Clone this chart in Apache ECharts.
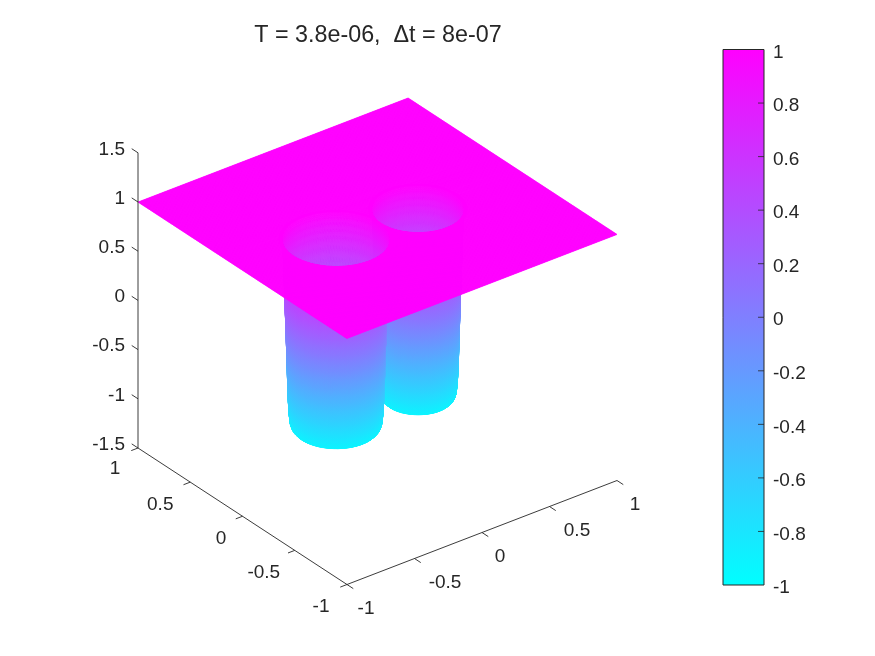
<!DOCTYPE html>
<html>
<head>
<meta charset="utf-8">
<style>html,body{margin:0;padding:0;background:#fff}#c{width:875px;height:656px}</style>
<script src="https://cdn.jsdelivr.net/npm/echarts@6/dist/echarts.min.js"></script>
</head>
<body>
<div id="c"></div>
<script>
// ---- values ----
const titleText = 'T = 3.8e-06,  \u0394t = 8e-07';
const xTicks = [-1, -0.5, 0, 0.5, 1];
const yTicks = [-1, -0.5, 0, 0.5, 1];
const zTicks = [-1.5, -1, -0.5, 0, 0.5, 1, 1.5];
const colorRange = [-1, 1];
const colorTicks = [-0.8, -0.6, -0.4, -0.2, 0, 0.2, 0.4, 0.6, 0.8];
// wells in the plate: centre x, centre y, rim radius
const wellX = [-0.343, 0.253];
const wellY = [-0.046, -0.06];
const wellR = [0.30, 0.255];
// wall profile: distance outside the rim -> surface height
const wallOffset = [-1, -0.075, -0.05, -0.038, -0.03, -0.024, -0.019, -0.01, 0, 0.006, 0.012, 0.018];
const wallHeight = [-0.92, -0.92, -0.91, -0.89, -0.85, -0.75, -0.6, -0.1, 0.4, 0.75, 0.95, 1];

// ---- view: where the data axes land on the page ----
const view = { ox: 347, oy: 584.5, xx: 135, xy: -52, yx: -104.5, yy: -68.25, zy: -98.4 };
const FONT = '"Liberation Sans", Arial, sans-serif';
const INK = '#262626';
const FS = 19;
const xLabelDx = [19, 30.5, 18, 27.5, 18], xLabelDy = 24;
const yLabelDx = [-26, -31, -21.5, -30, -23], yLabelDy = [22, 22, 22.5, 23, 21];

function project(x, y, z) {
  const a = x + 1, b = y + 1, c = z + 1.5;
  return [view.ox + view.xx * a + view.yx * b, view.oy + view.xy * a + view.yy * b + view.zy * c];
}
function cool(u) {
  const t = Math.max(0, Math.min(1, (u + 1) / 2));
  return 'rgb(' + Math.round(255 * t) + ',' + Math.round(255 * (1 - t)) + ',255)';
}
function rimDistance(x, y) {
  let d = Infinity;
  for (let k = 0; k < wellX.length; k++) {
    d = Math.min(d, Math.hypot(x - wellX[k], y - wellY[k]) - wellR[k]);
  }
  return d;
}
function heightAt(d) {
  if (d >= wallOffset[wallOffset.length - 1]) return 1;
  for (let i = 1; i < wallOffset.length; i++) {
    if (d <= wallOffset[i]) {
      const f = (d - wallOffset[i - 1]) / (wallOffset[i] - wallOffset[i - 1]);
      return wallHeight[i - 1] + f * (wallHeight[i] - wallHeight[i - 1]);
    }
  }
  return 1;
}

// ---- surface mesh: plate strips plus rings round each well, painted far to near ----
const N = 400;
const gx = i => -1 + 2 * i / N;
const cellOf = v => Math.max(0, Math.min(N - 1, Math.floor((v + 1) * N / 2)));
const PLATE_FROM = 0.02, RING_TO = 0.032, SECTORS = 220;
const radial = [];
for (let i = 2; i < wallOffset.length; i++) {
  for (let s = 0; s < 3; s++) radial.push(wallOffset[i - 1] + (wallOffset[i] - wallOffset[i - 1]) * s / 3);
}
radial.push(wallOffset[wallOffset.length - 1], RING_TO);
const buckets = new Map();
for (let k = 0; k < wellX.length; k++) {
  const node = (off, a) => {
    const r = wellR[k] + off;
    const x = wellX[k] + r * Math.cos(a), y = wellY[k] + r * Math.sin(a);
    return [x, y, heightAt(rimDistance(x, y))];
  };
  const rs = [-wellR[k] * 0.98].concat(radial);
  for (let s = 0; s < SECTORS; s++) {
    const a0 = 2 * Math.PI * s / SECTORS, a1 = 2 * Math.PI * (s + 1) / SECTORS;
    for (let m = 0; m + 1 < rs.length; m++) {
      const A = node(rs[m], a0), B = node(rs[m + 1], a0), C = node(rs[m + 1], a1), D = node(rs[m], a1);
      const cx = (A[0] + B[0] + C[0] + D[0]) / 4, cy = (A[1] + B[1] + C[1] + D[1]) / 4;
      const key = cellOf(cy) * (N + 1) + cellOf(cx);
      if (!buckets.has(key)) buckets.set(key, []);
      const depth = view.xy * -cx + view.yy * -cy;
      buckets.get(key).push({ depth, tris: [[A, B, C], [A, C, D]] });
    }
  }
}
const corner = [];
for (let j = 0; j <= N; j++) {
  const r = new Uint8Array(N + 1);
  for (let i = 0; i <= N; i++) r[i] = rimDistance(gx(i), gx(j)) >= PLATE_FROM ? 1 : 0;
  corner.push(r);
}
const plateOk = (i, j) => corner[j][i] && corner[j][i + 1] && corner[j + 1][i] && corner[j + 1][i + 1];
const pieces = [];
for (let j = N - 1; j >= 0; j--) {
  let i = N - 1;
  while (i >= 0) {
    const b = buckets.get(j * (N + 1) + i);
    if (plateOk(i, j)) {
      let k = i;
      if (!b) { while (k > 0 && plateOk(k - 1, j) && !buckets.has(j * (N + 1) + k - 1)) k--; }
      pieces.push([[gx(k), gx(j), 1], [gx(i + 1), gx(j), 1], [gx(i + 1), gx(j + 1), 1], [gx(k), gx(j + 1), 1]]);
      i = k;
    }
    if (b) {
      b.sort((p, q) => q.depth - p.depth);
      b.forEach(q => { pieces.push(q.tris[0]); pieces.push(q.tris[1]); });
    }
    i--;
  }
}

function pieceFill(p, pts) {
  if (p.length === 4) return cool(p[0][2]);
  const [a, b, c] = [0, 1, 2].map(i => ({ x: pts[i][0], y: pts[i][1], u: p[i][2] }));
  const du1 = b.u - a.u, du2 = c.u - a.u;
  const dx1 = b.x - a.x, dy1 = b.y - a.y, dx2 = c.x - a.x, dy2 = c.y - a.y;
  const det = dx1 * dy2 - dx2 * dy1;
  const umin = Math.min(a.u, b.u, c.u), umax = Math.max(a.u, b.u, c.u);
  if (Math.abs(det) < 1e-6 || umax - umin < 1e-3) return cool((a.u + b.u + c.u) / 3);
  const gxv = (du1 * dy2 - du2 * dy1) / det, gyv = (dx1 * du2 - dx2 * du1) / det;
  const g2 = gxv * gxv + gyv * gyv;
  if (g2 < 1e-12) return cool((a.u + b.u + c.u) / 3);
  const lo = a.u === umin ? a : (b.u === umin ? b : c);
  const span = umax - umin;
  return new echarts.graphic.LinearGradient(
    lo.x, lo.y, lo.x + gxv / g2 * span, lo.y + gyv / g2 * span,
    [{ offset: 0, color: cool(umin) }, { offset: 1, color: cool(umax) }], true);
}

// ---- axis box lines and ticks (as 3D segments) ----
const TY = 0.06, TX = 0.05;
const segments = [
  [[-1, 1, -1.5], [-1, 1, 1.5]],
  [[-1, 1, -1.5], [-1, -1, -1.5]],
  [[-1, -1, -1.5], [1, -1, -1.5]]
];
xTicks.forEach(v => segments.push([[v, -1, -1.5], [v, -1 - TY, -1.5]]));
yTicks.forEach(v => segments.push([[-1, v, -1.5], [-1 - TX, v, -1.5]]));
zTicks.forEach(v => segments.push([[-1, 1, v], [-1, 1 + TY, v]]));

const labels = [];
xTicks.forEach((v, i) => { const p = project(v, -1, -1.5); labels.push([p[0] + xLabelDx[i], p[1] + xLabelDy, String(v), 'center']); });
yTicks.forEach((v, i) => { const p = project(-1, v, -1.5); labels.push([p[0] + yLabelDx[i], p[1] + yLabelDy[i], String(v), 'center']); });
zTicks.forEach(v => { const p = project(-1, 1, v); labels.push([p[0] - 13, p[1] - 3.5, String(v), 'right']); });

const chart = echarts.init(document.getElementById('c'), null, { renderer: 'canvas', width: 875, height: 656 });
chart.setOption({
  animation: false,
  backgroundColor: '#ffffff',
  title: {
    text: titleText, left: 373, top: 19, textAlign: 'center',
    textStyle: { color: INK, fontFamily: FONT, fontSize: 23.3, fontWeight: 'normal' }
  },
  grid: [
    { left: 0, top: 0, width: 875, height: 656, show: false },
    { left: 723, top: 49.5, width: 41, height: 535.5, show: false }
  ],
  xAxis: [
    { gridIndex: 0, type: 'value', min: 0, max: 875, show: false },
    { gridIndex: 1, type: 'value', min: 0, max: 1, show: false }
  ],
  yAxis: [
    { gridIndex: 0, type: 'value', min: 0, max: 656, inverse: true, show: false },
    {
      gridIndex: 1, type: 'value', min: colorRange[0], max: colorRange[1], interval: 0.2, position: 'right',
      splitLine: { show: false }, axisLine: { show: false }, axisTick: { show: false },
      axisLabel: {
        show: true, margin: 9, color: INK, fontFamily: FONT, fontSize: FS,
        verticalAlign: 'top', lineHeight: 6,
        formatter: v => String(Math.round(v * 10) / 10)
      }
    }
  ],
  series: [
    {
      type: 'custom', xAxisIndex: 0, yAxisIndex: 0, silent: true, clip: false, z: 2, progressive: 0,
      data: pieces.map((_, i) => [i]),
      renderItem: (params, api) => {
        const p = pieces[api.value(0)];
        const pts = p.map(v => api.coord(project(v[0], v[1], v[2])));
        const fill = pieceFill(p, pts);
        return { type: 'polygon', shape: { points: pts }, style: { fill: fill, stroke: fill, lineWidth: 0.6 } };
      }
    },
    {
      type: 'custom', xAxisIndex: 0, yAxisIndex: 0, silent: true, clip: false, z: 3,
      data: segments.map((_, i) => [i]),
      renderItem: (params, api) => {
        const s = segments[api.value(0)];
        const a = api.coord(project(s[0][0], s[0][1], s[0][2]));
        const b = api.coord(project(s[1][0], s[1][1], s[1][2]));
        return { type: 'line', shape: { x1: a[0], y1: a[1], x2: b[0], y2: b[1] }, style: { stroke: INK, lineWidth: 0.9, fill: null } };
      }
    },
    {
      type: 'custom', xAxisIndex: 0, yAxisIndex: 0, silent: true, clip: false, z: 4,
      data: labels.map((_, i) => [i]),
      renderItem: (params, api) => {
        const l = labels[api.value(0)];
        const c = api.coord([l[0], l[1]]);
        return { type: 'text', x: c[0], y: c[1], style: { text: l[2], fill: INK, font: FS + 'px ' + FONT, textAlign: l[3], textVerticalAlign: 'middle' } };
      }
    },
    {
      type: 'custom', xAxisIndex: 1, yAxisIndex: 1, silent: true, clip: false, z: 2,
      data: [[0, colorRange[0], 1, colorRange[1]]],
      renderItem: (params, api) => {
        const a = api.coord([api.value(0), api.value(1)]);
        const b = api.coord([api.value(2), api.value(3)]);
        const fill = new echarts.graphic.LinearGradient(0, 0, 0, 1, [
          { offset: 0, color: cool(colorRange[1]) }, { offset: 1, color: cool(colorRange[0]) }
        ]);
        return {
          type: 'rect', shape: { x: a[0], y: b[1], width: b[0] - a[0], height: a[1] - b[1] },
          style: { fill: fill, stroke: INK, lineWidth: 1 }
        };
      }
    },
    {
      type: 'custom', xAxisIndex: 1, yAxisIndex: 1, silent: true, clip: false, z: 3,
      data: colorTicks.map(v => [v]),
      renderItem: (params, api) => {
        const c = api.coord([1, api.value(0)]);
        return { type: 'line', shape: { x1: c[0], y1: c[1], x2: c[0] - 6, y2: c[1] }, style: { stroke: INK, lineWidth: 0.8, fill: null } };
      }
    }
  ]
});
</script>
</body>
</html>
